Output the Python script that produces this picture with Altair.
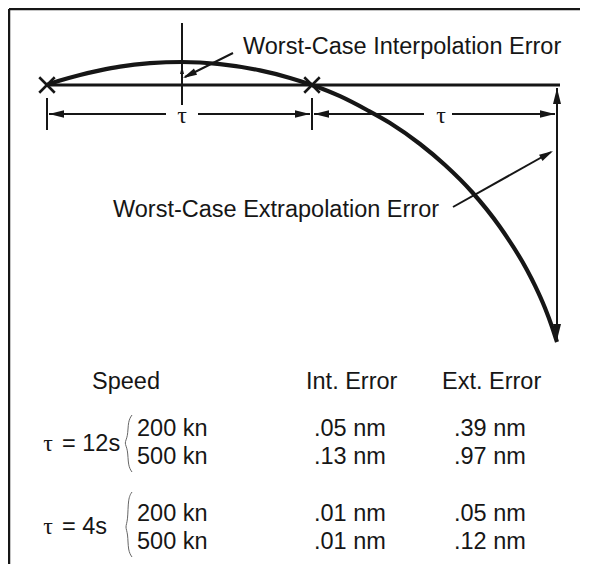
import math
import altair as alt
import pandas as pd

# ---------------- geometry / data (diagram coordinates, y grows downward) ----------------
W, H = 572, 556
XD = [8, 8 + W]
YD = [8, 8 + H]

# trajectory curve
curve_x = [47, 60, 80, 100, 120, 150, 182, 220, 260, 290, 312, 340, 367, 390, 420, 445, 472, 500, 527, 535, 545, 552, 557]
curve_y = [85, 80.6, 75, 70.4, 66.6, 63.2, 62, 64.2, 70.4, 77.9, 85, 96.2, 110, 123, 144, 165, 192, 227, 270, 285.6, 308, 326.7, 342]

# straight segments: x1, y1, x2, y2, stroke width
seg_x1 = [9, 9, 47, 182, 47, 312, 49, 198, 314, 452, 557, 233, 453]
seg_y1 = [9, 9, 85, 23, 98, 98, 114, 114, 114, 114, 88, 53, 207]
seg_x2 = [580, 9, 560, 182, 47, 312, 166, 310, 424, 555, 557, 185, 551]
seg_y2 = [9, 564, 85, 105, 130, 130, 114, 114, 114, 114, 340, 77, 152]
seg_w = [2.5, 2.5, 3.2, 2, 2, 2, 2, 2, 2, 2, 2, 2, 2]

# arrow heads: tip x, tip y, direction (dx, dy), length
head_x = [49, 310, 314, 555, 557, 557, 183, 553, 182]
head_y = [114, 114, 114, 114, 88, 340, 78, 151, 66]
head_dx = [-1, 1, -1, 1, 0, 0, -50, 100, 0]
head_dy = [0, 0, 0, 0, -1, 1, 25, -56, -1]
head_len = [15, 15, 15, 15, 16, 16, 14, 14, 8]

# sample point markers (x)
mark_x = [47, 312]
mark_y = [85, 85]

# braces
brace_id = [1] * 7 + [2] * 7
brace_x = [132, 128, 128, 124, 128, 128, 132, 132, 128, 128, 125, 128, 128, 132]
brace_y = [415, 421, 437, 443, 449, 466, 472, 492, 498, 521, 527, 533, 551, 557]

# labels
label_text = ["Worst-Case Interpolation Error", "Worst-Case Extrapolation Error"]
label_x = [243, 113]
label_y = [54, 217]

# table
head_text = ["Speed", "Int. Error", "Ext. Error"]
head_col_x = [92, 306, 442]
tau_vals = ["= 12s", "= 4s"]
tau_row_y = [451, 534]
speeds = ["200 kn", "500 kn", "200 kn", "500 kn"]
int_err = [".05 nm", ".13 nm", ".01 nm", ".01 nm"]
ext_err = [".39 nm", ".97 nm", ".05 nm", ".12 nm"]
row_y = [436, 464, 521, 549]
header_y = 389
col_speed_x, col_int_x, col_ext_x, col_eq_x = 137, 314, 454, 62

# tau symbols (dimension labels and table rows): x, y, alignment
tau_x = [182, 441, 48, 48]
tau_y = [123, 123, 451, 534]

# ---------------- tables ----------------
curve = pd.DataFrame({"x": curve_x, "y": curve_y, "i": range(len(curve_x))})
segs = pd.DataFrame({"x": seg_x1, "y": seg_y1, "x2": seg_x2, "y2": seg_y2, "w": seg_w})
heads = pd.DataFrame({
    "x": head_x, "y": head_y,
    "angle": [(math.degrees(math.atan2(dx, -dy)) + 360) % 360 for dx, dy in zip(head_dx, head_dy)],
    "size": [L * L for L in head_len],
})
marks = pd.DataFrame({"x": mark_x, "y": mark_y})
braces = pd.DataFrame({"x": brace_x, "y": brace_y, "id": brace_id, "i": list(range(len(brace_x)))})

t_text, t_x, t_y = [], [], []
t_text += label_text; t_x += label_x; t_y += label_y
t_text += head_text; t_x += head_col_x; t_y += [header_y] * 3
t_text += tau_vals; t_x += [col_eq_x] * 2; t_y += tau_row_y
t_text += speeds; t_x += [col_speed_x] * 4; t_y += row_y
t_text += int_err; t_x += [col_int_x] * 4; t_y += row_y
t_text += ext_err; t_x += [col_ext_x] * 4; t_y += row_y
texts = pd.DataFrame({"t": t_text, "x": t_x, "y": t_y})
taus_df = pd.DataFrame({"t": ["τ"] * len(tau_x), "x": tau_x, "y": tau_y})

INK = "#161616"
FONT = "Liberation Sans"
FS = 23.5

xs = alt.Scale(domain=XD, nice=False, zero=False)
ys = alt.Scale(domain=YD, nice=False, zero=False, reverse=True)
X = lambda f="x": alt.X(f"{f}:Q", scale=xs, axis=None)
Y = lambda f="y": alt.Y(f"{f}:Q", scale=ys, axis=None)

seg_layer = alt.Chart(segs).mark_rule(color=INK, strokeCap="butt").encode(
    x=X(), y=Y(), x2="x2:Q", y2="y2:Q",
    strokeWidth=alt.StrokeWidth("w:Q", scale=None),
)

curve_layer = alt.Chart(curve).mark_line(color=INK, strokeWidth=4.2, interpolate="monotone").encode(
    x=X(), y=Y(), order="i:Q"
)

head_layer = alt.Chart(heads).mark_point(
    shape="M0,0L0.5,2L-0.5,2Z", filled=True, color=INK, opacity=1, strokeWidth=0
).encode(
    x=X(), y=Y(),
    angle=alt.Angle("angle:Q", scale=None),
    size=alt.Size("size:Q", scale=None),
)

x_layer = alt.Chart(marks).mark_point(
    shape="M-1,-1L1,1M-1,1L1,-1", filled=False, color=INK, strokeWidth=2.6, size=240, opacity=1
).encode(x=X(), y=Y())

brace_layer = alt.Chart(braces).mark_line(color="#666666", strokeWidth=1.0, interpolate="basis").encode(
    x=X(), y=Y(), detail="id:N", order="i:Q"
)

text_layer = alt.Chart(texts).mark_text(
    align="left", baseline="alphabetic", font=FONT, fontSize=FS, color=INK
).encode(x=X(), y=Y(), text="t:N")

tau_layer = alt.Chart(taus_df).mark_text(
    align="center", baseline="alphabetic", font="Liberation Serif", fontSize=24, color=INK
).encode(x=X(), y=Y(), text="t:N")

chart = alt.layer(
    seg_layer, curve_layer, head_layer, x_layer, brace_layer, text_layer, tau_layer
).properties(
    width=W, height=H, padding=0, autosize=alt.AutoSizeParams(type="none"), background="white"
).configure_view(stroke=None)

chart.save("out.html", embed_options={"renderer": "svg", "actions": False})
